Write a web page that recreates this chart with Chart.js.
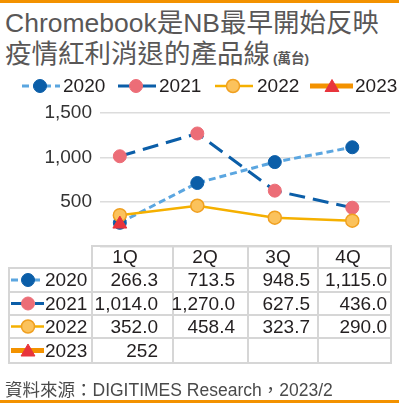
<!DOCTYPE html>
<html>
<head>
<meta charset="utf-8">
<script src="https://cdn.jsdelivr.net/npm/chart.js@4.4.0/dist/chart.umd.min.js"></script>
<style>
html, body { margin: 0; padding: 0; background: #fff; }
#pagina { position: relative; width: 399px; height: 403px; overflow: hidden;
  font-family: "Liberation Sans", Arial, "Noto Sans CJK TC", sans-serif; color: #231f20; }
#grafico { position: absolute; left: 0; top: 0; }
.faixa { position: absolute; left: 0; width: 399px; background: #f39200; }
.txt { position: absolute; white-space: nowrap; line-height: 1; }
.linha { position: absolute; background: #d6d6d6; }
#titulo { position: absolute; left: 5px; top: 8px; font-size: 26.5px; line-height: 31px; color: #595757; white-space: nowrap; }
#titulo small { font-size: 13.5px; font-weight: bold; margin-left: 3px; }
#fonte { position: absolute; left: 5px; top: 376px; font-size: 17.5px; color: #4a4a4a; white-space: nowrap; }
</style>
</head>
<body>
<div id="pagina">
  <div class="faixa" style="top:0;height:3px"></div>
  <div id="titulo">Chromebook是NB最早開始反映<br>疫情紅利消退的產品線<small>(萬台)</small></div>
  <canvas id="grafico" width="399" height="403"></canvas>
  <div id="fonte">資料來源：DIGITIMES Research，2023/2</div>
  <div class="faixa" style="top:400px;height:3px"></div>
</div>
<script>
const trimestres = ['1Q', '2Q', '3Q', '4Q'];
const anos = ['2020', '2021', '2022', '2023'];
const valores2020 = [266.3, 713.5, 948.5, 1115.0];
const valores2021 = [1014.0, 1270.0, 627.5, 436.0];
const valores2022 = [352.0, 458.4, 323.7, 290.0];
const valores2023 = [252, null, null, null];
const casasDecimais = [1, 1, 1, 0];
const ticksY = [0, 500, 1000, 1500];

const series = [valores2020, valores2021, valores2022, valores2023];

// posicoes da tabela
const colunas = [8, 91, 172, 247, 317, 390];
const linhas = [246, 268, 292, 315, 338, 363];
const direitaValores = [158, 235, 310, 387];
const centroCabecalho = [125, 205, 278, 348];

function pontos(lista) {
    return lista.map((v, i) => ({ x: i, y: v })).filter(p => p.y !== null);
}

const estilos = [
    { borderColor: '#5ba6e0', borderWidth: 3, borderDash: [7, 4], pointBackgroundColor: '#0b5ea8', pointBorderColor: '#0b5ea8', pointRadius: 6.5, pointStyle: 'circle', order: 3 },
    { borderColor: '#0b5ea8', borderWidth: 3, borderDash: [16, 8], pointBackgroundColor: '#ec6d77', pointBorderColor: '#ec6d77', pointRadius: 6.5, pointStyle: 'circle', order: 2 },
    { borderColor: '#f5b000', borderWidth: 2.5, borderDash: [], pointBackgroundColor: '#fbc25c', pointBorderColor: '#f0a020', pointBorderWidth: 1.5, pointRadius: 6.5, pointStyle: 'circle', order: 1 },
    { borderColor: '#f39200', borderWidth: 5, borderDash: [], pointBackgroundColor: '#e8343c', pointBorderColor: '#e8343c', pointRadius: 8, pointStyle: 'triangle', order: 0 }
];

const datasets = anos.map((ano, i) => Object.assign({
    label: ano,
    data: pontos(series[i]),
    showLine: i !== 3,
    fill: false,
    tension: 0,
    pointBorderWidth: 1
}, estilos[i]));

// amostra de legenda: linha + marcador
function desenharAmostra(ctx, ds, x1, x2, xm, y) {
    ctx.save();
    ctx.strokeStyle = ds.borderColor;
    ctx.lineWidth = ds.borderWidth;
    ctx.setLineDash(ds.borderDash);
    ctx.beginPath();
    ctx.moveTo(x1, y);
    ctx.lineTo(x2, y);
    ctx.stroke();
    ctx.setLineDash([]);
    ctx.fillStyle = ds.pointBackgroundColor;
    ctx.strokeStyle = ds.pointBorderColor;
    ctx.lineWidth = ds.pointBorderWidth;
    Chart.helpers.drawPoint(ctx, {
        pointStyle: ds.pointStyle,
        rotation: 0,
        radius: ds.pointRadius,
        borderWidth: ds.pointBorderWidth
    }, xm, ds.pointStyle === 'triangle' ? y + 1.5 : y);
    ctx.restore();
}

const amostras = {
    id: 'amostras',
    afterDraw(chart) {
        const ctx = chart.ctx;
        const topo = [[22, 60, 40], [118, 156, 136], [215, 253, 233], [310, 353, 332]];
        chart.data.datasets.forEach((ds, i) => {
            desenharAmostra(ctx, ds, topo[i][0], topo[i][1], topo[i][2], 86);
            desenharAmostra(ctx, ds, 11, 44, 28, (linhas[i + 1] + linhas[i + 2]) / 2);
        });
    }
};

new Chart(document.getElementById('grafico').getContext('2d'), {
    type: 'line',
    data: { datasets: datasets },
    options: {
        responsive: false,
        animation: false,
        layout: { padding: { top: 113, bottom: 156.5, left: 0, right: 7 } },
        plugins: { legend: { display: false }, tooltip: { enabled: false } },
        scales: {
            x: { type: 'linear', min: -0.256, max: 3.487, display: false },
            y: {
                min: 0,
                max: 1500,
                afterBuildTicks(s) { s.ticks = ticksY.map(v => ({ value: v })); },
                afterFit(s) { s.width = 100; },
                border: { display: false },
                grid: { color: '#dcdcdc', lineWidth: 1.5, drawTicks: false },
                ticks: {
                    padding: 8,
                    color: '#333',
                    font: { family: '"Liberation Sans", Arial', size: 19 },
                    callback: v => v === 0 ? '' : v.toLocaleString('en-US')
                }
            }
        }
    },
    plugins: [amostras]
});

const pagina = document.getElementById('pagina');
function texto(conteudo, css) {
    const d = document.createElement('div');
    d.className = 'txt';
    d.textContent = conteudo;
    d.style.cssText += css;
    pagina.appendChild(d);
    return d;
}
function linha(x, y, w, h) {
    const d = document.createElement('div');
    d.className = 'linha';
    d.style.cssText = `left:${x}px;top:${y}px;width:${w}px;height:${h}px`;
    pagina.appendChild(d);
}

// legenda superior (texto)
const legendaX = [63, 159, 257, 355];
anos.forEach((ano, i) => texto(ano, `left:${legendaX[i]}px;top:76px;font-size:19px;height:20px;line-height:20px`));

// tabela
linha(colunas[1], linhas[0] - 1, colunas[5] - colunas[1] + 2, 2);
for (let r = 1; r < linhas.length; r++) linha(colunas[0], linhas[r] - 1, colunas[5] - colunas[0] + 2, 2);
linha(colunas[0], linhas[1] - 1, 2, linhas[5] - linhas[1] + 1);
for (let c = 1; c < colunas.length; c++) linha(colunas[c], linhas[0] - 1, 2, linhas[5] - linhas[0] + 1);

trimestres.forEach((q, i) => {
    texto(q, `top:${(linhas[0] + linhas[1]) / 2 - 11}px;height:22px;line-height:22px;font-size:19px;width:60px;text-align:center;left:${centroCabecalho[i] - 30}px`);
});

series.forEach((lista, s) => {
    const yc = (linhas[s + 1] + linhas[s + 2]) / 2;
    texto(anos[s], `left:45px;top:${yc - 11}px;height:22px;line-height:22px;font-size:19px`);
    lista.forEach((v, i) => {
        if (v === null) return;
        const t = v.toLocaleString('en-US', { minimumFractionDigits: casasDecimais[s], maximumFractionDigits: casasDecimais[s] });
        texto(t, `top:${yc - 11}px;height:22px;line-height:22px;font-size:19px;width:100px;text-align:right;left:${direitaValores[i] - 100}px`);
    });
});
</script>
</body>
</html>
